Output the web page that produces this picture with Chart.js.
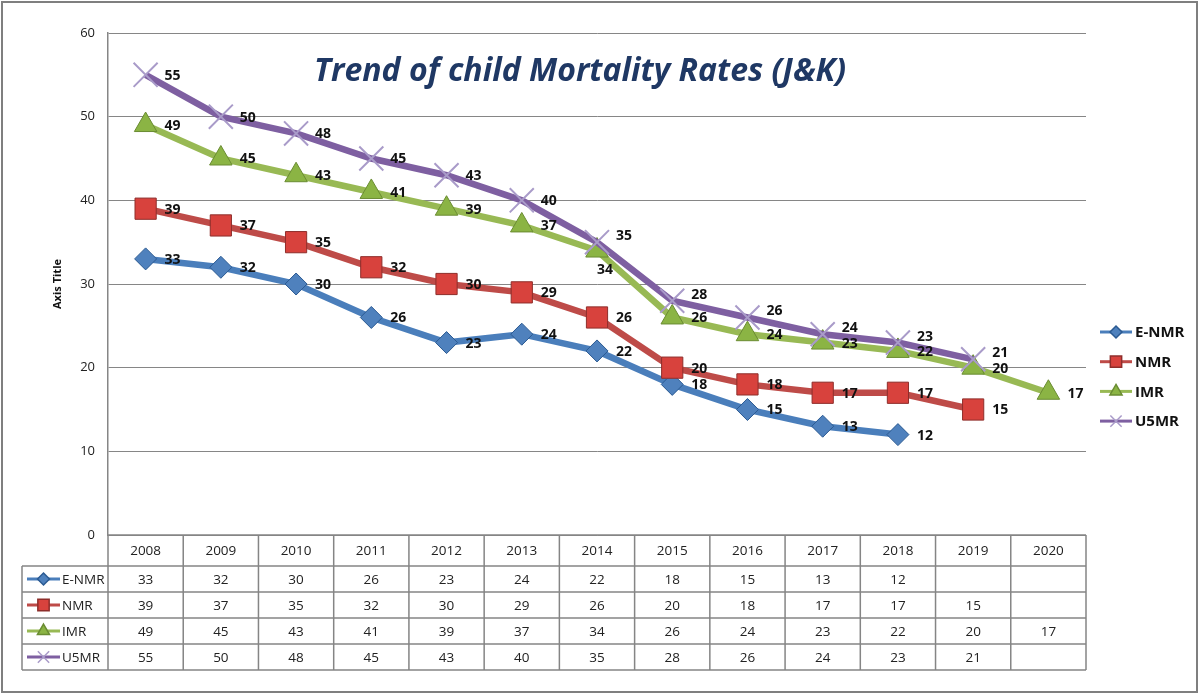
<!DOCTYPE html>
<html>
<head>
<meta charset="utf-8">
<script src="https://cdn.jsdelivr.net/npm/chart.js@4.4.0/dist/chart.umd.min.js"></script>
<style>
html, body { margin: 0; padding: 0; background: #fff; }
#wrap { width: 1200px; height: 696px; }
</style>
</head>
<body>
<div id="wrap"><canvas id="myLineChart"></canvas></div>
<script>
// data
const years = ['2008', '2009', '2010', '2011', '2012', '2013', '2014', '2015', '2016', '2017', '2018', '2019', '2020'];
const enmr = [33, 32, 30, 26, 23, 24, 22, 18, 15, 13, 12, null, null];
const nmr = [39, 37, 35, 32, 30, 29, 26, 20, 18, 17, 17, 15, null];
const imr = [49, 45, 43, 41, 39, 37, 34, 26, 24, 23, 22, 20, 17];
const u5mr = [55, 50, 48, 45, 43, 40, 35, 28, 26, 24, 23, 21, null];
const seriesNames = ['E-NMR', 'NMR', 'IMR', 'U5MR'];
const chartTitle = 'Trend of child Mortality Rates (J&K)';

var FONT = '"Open Sans", "Noto Sans", sans-serif';

// marker look per series (same order as seriesNames)
var looks = [
    { line: '#4A7EBB', fill: '#4F81BD', edge: '#2B5A92', style: 'rectRot', r: 11, lr: 6, bw: 1 },
    { line: '#BE4B48', fill: '#D8423D', edge: '#8E2E2B', style: 'rect', r: 15, lr: 8, bw: 1 },
    { line: '#98B954', fill: '#8BB444', edge: '#6A8C32', style: 'triangle', r: 13, lr: 7, bw: 1 },
    { line: '#7E5FA1', fill: 'rgba(0,0,0,0)', edge: '#A99BC9', style: 'crossRot', r: 17, lr: 8, bw: 2 }
];

var allData = [enmr, nmr, imr, u5mr];

function drawMarker(ctx, look, x, y, r) {
    ctx.save();
    ctx.fillStyle = look.fill;
    ctx.strokeStyle = look.edge;
    Chart.helpers.drawPoint(ctx, { pointStyle: look.style, radius: r, rotation: 0, borderWidth: look.bw }, x, y);
    ctx.restore();
}

function drawKey(ctx, look, x1, x2, y) {
    ctx.save();
    ctx.strokeStyle = look.line;
    ctx.lineWidth = 3;
    ctx.beginPath();
    ctx.moveTo(x1, y);
    ctx.lineTo(x2, y);
    ctx.stroke();
    ctx.restore();
    drawMarker(ctx, look, (x1 + x2) / 2, y, look.lr);
}

var decor = {
    id: 'decor',
    beforeDraw: function (chart) {
        var ctx = chart.ctx;
        ctx.save();
        ctx.fillStyle = '#fff';
        ctx.fillRect(0, 0, chart.width, chart.height);
        ctx.strokeStyle = '#7f7f7f';
        ctx.lineWidth = 2;
        ctx.strokeRect(2, 2, 1195, 690);
        ctx.restore();
    },
    afterDatasetsDraw: function (chart) {
        // value labels to the right of each point
        var ctx = chart.ctx;
        ctx.save();
        ctx.font = 'bold 14px ' + FONT;
        ctx.fillStyle = '#111';
        ctx.textBaseline = 'middle';
        ctx.textAlign = 'left';
        chart.data.datasets.forEach(function (ds, di) {
            var meta = chart.getDatasetMeta(di);
            meta.data.forEach(function (pt, i) {
                var v = ds.data[i];
                if (v === null) return;
                var dx = 19, dy = 1;
                if (ds.label === 'IMR' && years[i] === '2014') { dx = 0; dy = 19; }
                if (ds.label === 'U5MR' && i > 5) { dy = -6; }
                ctx.fillText(String(v), pt.x + dx, pt.y + dy);
            });
        });
        ctx.restore();
    },
    afterDraw: function (chart) {
        var ctx = chart.ctx;
        var xs = chart.scales.x;
        var step = xs.getPixelForValue(1) - xs.getPixelForValue(0);
        var left = xs.getPixelForValue(0) - step / 2;
        var right = left + step * years.length;
        var top = chart.chartArea.bottom;
        var rows = [top, top + 31, top + 57, top + 83, top + 109, top + 135];
        var keyLeft = 22;

        // data table grid
        ctx.save();
        ctx.strokeStyle = '#858585';
        ctx.lineWidth = 1.5;
        ctx.beginPath();
        for (var k = 0; k <= years.length; k++) {
            var gx = left + k * step;
            ctx.moveTo(gx, rows[0]);
            ctx.lineTo(gx, rows[5]);
        }
        ctx.moveTo(keyLeft, rows[1]);
        ctx.lineTo(keyLeft, rows[5]);
        ctx.moveTo(left, rows[0]);
        ctx.lineTo(right, rows[0]);
        for (var r = 1; r < rows.length; r++) {
            ctx.moveTo(keyLeft, rows[r]);
            ctx.lineTo(right, rows[r]);
        }
        ctx.stroke();

        ctx.font = '13.5px ' + FONT;
        ctx.fillStyle = '#222';
        ctx.textAlign = 'center';
        ctx.textBaseline = 'middle';
        years.forEach(function (y, i) {
            ctx.fillText(y, xs.getPixelForValue(i), (rows[0] + rows[1]) / 2 + 1);
        });
        allData.forEach(function (arr, s) {
            var cy = (rows[s + 1] + rows[s + 2]) / 2 + 1;
            arr.forEach(function (v, i) {
                if (v === null) return;
                ctx.fillText(String(v), xs.getPixelForValue(i), cy);
            });
        });
        ctx.textAlign = 'left';
        seriesNames.forEach(function (name, s) {
            var cy = (rows[s + 1] + rows[s + 2]) / 2;
            drawKey(ctx, looks[s], 27, 60, cy);
            ctx.fillStyle = '#222';
            ctx.fillText(name, 62, cy + 1);
        });

        // legend on the right
        ctx.font = 'bold 15px ' + FONT;
        seriesNames.forEach(function (name, s) {
            var ly = 332 + s * 29.7;
            drawKey(ctx, looks[s], 1100, 1132, ly);
            ctx.fillStyle = '#111';
            ctx.fillText(name, 1135, ly + 1);
        });

        // chart title
        ctx.font = 'italic bold 32px ' + FONT;
        ctx.fillStyle = '#1F3864';
        ctx.textAlign = 'center';
        ctx.fillText(chartTitle, 580, 72);
        ctx.restore();
    }
};

var datasets = seriesNames.map(function (name, s) {
    var lk = looks[s];
    return {
        label: name,
        data: allData[s],
        borderColor: lk.line,
        borderWidth: 6.5,
        fill: false,
        tension: 0,
        pointStyle: lk.style,
        pointRadius: lk.r,
        pointHoverRadius: lk.r,
        pointBackgroundColor: lk.fill,
        pointBorderColor: lk.edge,
        pointBorderWidth: lk.bw,
        order: 4 - s
    };
});

var ctx = document.getElementById('myLineChart').getContext('2d');
var myLineChart = new Chart(ctx, {
    type: 'line',
    data: { labels: years, datasets: datasets },
    plugins: [decor],
    options: {
        responsive: true,
        maintainAspectRatio: false,
        animation: false,
        layout: { padding: { left: 40, top: 33, right: 114, bottom: 161 } },
        plugins: {
            legend: { display: false },
            tooltip: { enabled: false },
            title: { display: false }
        },
        scales: {
            x: {
                type: 'category',
                offset: true,
                display: false
            },
            y: {
                min: 0,
                max: 60,
                ticks: {
                    stepSize: 10,
                    padding: 13,
                    color: '#222',
                    font: { family: FONT, size: 13 }
                },
                grid: { color: '#868686', drawTicks: false },
                border: { display: true, color: '#868686', width: 1.5 },
                title: {
                    display: true,
                    text: 'Axis Title',
                    color: '#111',
                    font: { family: FONT, size: 11, weight: 'bold' },
                    padding: { top: 11, bottom: 0 }
                },
                afterFit: function (scale) { scale.width = 68; }
            }
        }
    }
});
</script>
</body>
</html>
